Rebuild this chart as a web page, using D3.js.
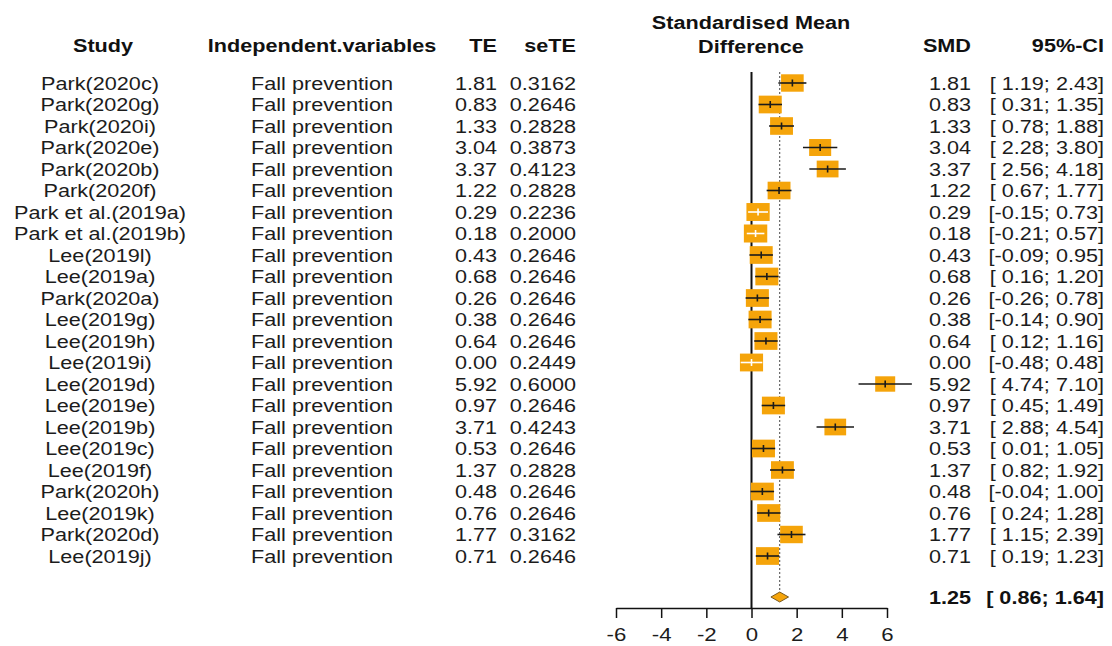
<!DOCTYPE html>
<html>
<head>
<meta charset="utf-8">
<script src="https://cdn.jsdelivr.net/npm/d3@7"></script>
<style>
  html, body { margin: 0; padding: 0; background: #fff; }
  svg { display: block; }
  text { font-family: "Liberation Sans", Arial, sans-serif; white-space: pre; }
</style>
</head>
<body>
<svg id="chart" width="1112" height="646"></svg>
<script>
// ---- data ----
const studies = ["Park(2020c)","Park(2020g)","Park(2020i)","Park(2020e)","Park(2020b)","Park(2020f)",
  "Park et al.(2019a)","Park et al.(2019b)","Lee(2019l)","Lee(2019a)","Park(2020a)","Lee(2019g)",
  "Lee(2019h)","Lee(2019i)","Lee(2019d)","Lee(2019e)","Lee(2019b)","Lee(2019c)","Lee(2019f)",
  "Park(2020h)","Lee(2019k)","Park(2020d)","Lee(2019j)"];
const variables = studies.map(() => "Fall prevention");
const teValues = [1.81,0.83,1.33,3.04,3.37,1.22,0.29,0.18,0.43,0.68,0.26,0.38,0.64,0.00,5.92,0.97,3.71,0.53,1.37,0.48,0.76,1.77,0.71];
const seValues = [0.3162,0.2646,0.2828,0.3873,0.4123,0.2828,0.2236,0.2000,0.2646,0.2646,0.2646,0.2646,0.2646,0.2449,0.6000,0.2646,0.4243,0.2646,0.2828,0.2646,0.2646,0.3162,0.2646];
const ciLower = [1.19,0.31,0.78,2.28,2.56,0.67,-0.15,-0.21,-0.09,0.16,-0.26,-0.14,0.12,-0.48,4.74,0.45,2.88,0.01,0.82,-0.04,0.24,1.15,0.19];
const ciUpper = [2.43,1.35,1.88,3.80,4.18,1.77,0.73,0.57,0.95,1.20,0.78,0.90,1.16,0.48,7.10,1.49,4.54,1.05,1.92,1.00,1.28,2.39,1.23];
const pooledEst = 1.25, pooledLower = 0.86, pooledUpper = 1.64;
const tau2 = 0.83; // between-study variance used for random-effects weights
const axisTicks = [-6,-4,-2,0,2,4,6];

// ---- layout ----
const svg = d3.select("#chart");
const SX = 1.17;         // horizontal stretch of the original picture
const FS = 18.5;
const orange = "#F5A40A";

const x = d3.scaleLinear().domain([-6, 6]).range([616, 887]);
const y = d3.scaleLinear().domain([0, studies.length - 1]).range([83, 556]);
const ySummary = 597;
const weights = seValues.map(s => 1 / (s * s + tau2));
const boxW = d3.scaleSqrt().domain([0, 1.111]).range([0, 23]);
const boxRatio = 0.77;

function txt(xp, yp, str, anchor, bold, size) {
  return svg.append("text")
    .attr("transform", `translate(${xp},${yp}) scale(${SX},1)`)
    .attr("dy", "0.36em")
    .attr("text-anchor", anchor)
    .attr("font-size", size || FS)
    .attr("font-weight", bold ? "bold" : "normal")
    .attr("fill", bold ? "#111" : "#1c1c1c")
    .text(str);
}

// headers
txt(103, 45, "Study", "middle", true);
txt(322, 45, "Independent.variables", "middle", true);
txt(497, 45, "TE", "end", true);
txt(576, 45, "seTE", "end", true);
txt(751, 22, "Standardised Mean", "middle", true);
txt(751, 46, "Difference", "middle", true);
txt(971, 45, "SMD", "end", true);
txt(1104, 45, "95%-CI", "end", true);

const f2 = d3.format(".2f"), f4 = d3.format(".4f");
const fmtCI = (lo, hi) => "[" + (lo < 0 ? "" : " ") + f2(lo).replace("−","-") + "; " + f2(hi) + "]";

// rows text
studies.forEach((s, i) => {
  const yy = y(i);
  txt(100, yy, s, "middle", false);
  txt(322, yy, variables[i], "middle", false);
  txt(497, yy, f2(teValues[i]), "end", false);
  txt(576, yy, f4(seValues[i]), "end", false);
  txt(971, yy, f2(teValues[i]), "end", false);
  txt(1104, yy, fmtCI(ciLower[i], ciUpper[i]), "end", false);
});
txt(971, ySummary, f2(pooledEst), "end", true);
txt(1104, ySummary, fmtCI(pooledLower, pooledUpper), "end", true);

// reference lines
svg.append("line")
  .attr("x1", x(0)).attr("x2", x(0)).attr("y1", 72).attr("y2", 608)
  .attr("stroke", "#111").attr("stroke-width", 2);
svg.append("line")
  .attr("x1", x(pooledEst)).attr("x2", x(pooledEst)).attr("y1", 72).attr("y2", ySummary - 4)
  .attr("stroke", "#444").attr("stroke-width", 1).attr("stroke-dasharray", "2,2");

// boxes and CIs
const g = svg.append("g");
studies.forEach((s, i) => {
  const yy = y(i);
  const w = boxW(weights[i]), h = w * boxRatio;
  const cx = x(teValues[i]);
  g.append("rect")
    .attr("x", cx - w / 2).attr("y", yy - h / 2)
    .attr("width", w).attr("height", h)
    .attr("fill", orange);
  const lx1 = x(ciLower[i]), lx2 = x(ciUpper[i]);
  const inside = lx1 >= cx - w / 2 && lx2 <= cx + w / 2;
  const col = inside ? "#ffffff" : "#1a1a1a";
  g.append("line")
    .attr("x1", lx1).attr("x2", lx2).attr("y1", yy).attr("y2", yy)
    .attr("stroke", col).attr("stroke-width", 1.6);
  g.append("line")
    .attr("x1", cx).attr("x2", cx).attr("y1", yy - 3.5).attr("y2", yy + 3.5)
    .attr("stroke", col).attr("stroke-width", 1.6);
});

// pooled diamond
svg.append("path")
  .attr("d", `M${x(pooledLower)},${ySummary} L${x(pooledEst)},${ySummary - 5} L${x(pooledUpper)},${ySummary} L${x(pooledEst)},${ySummary + 5} Z`)
  .attr("fill", orange).attr("stroke", "#7a5a20").attr("stroke-width", 1);

// axis
const axis = d3.axisBottom(x).tickValues(axisTicks).tickSize(10).tickSizeOuter(0).tickPadding(10)
  .tickFormat(d => String(d));
const ag = svg.append("g").attr("transform", "translate(0,608)").call(axis);
ag.select(".domain").attr("stroke", "#111").attr("stroke-width", 1.5);
ag.selectAll(".tick line").attr("stroke", "#111").attr("stroke-width", 1.5);
ag.selectAll(".tick text")
  .attr("font-size", 19)
  .attr("fill", "#1c1c1c")
  .attr("font-family", "Liberation Sans, Arial, sans-serif")
  .attr("transform", `scale(${SX},1)`);
</script>
</body>
</html>
